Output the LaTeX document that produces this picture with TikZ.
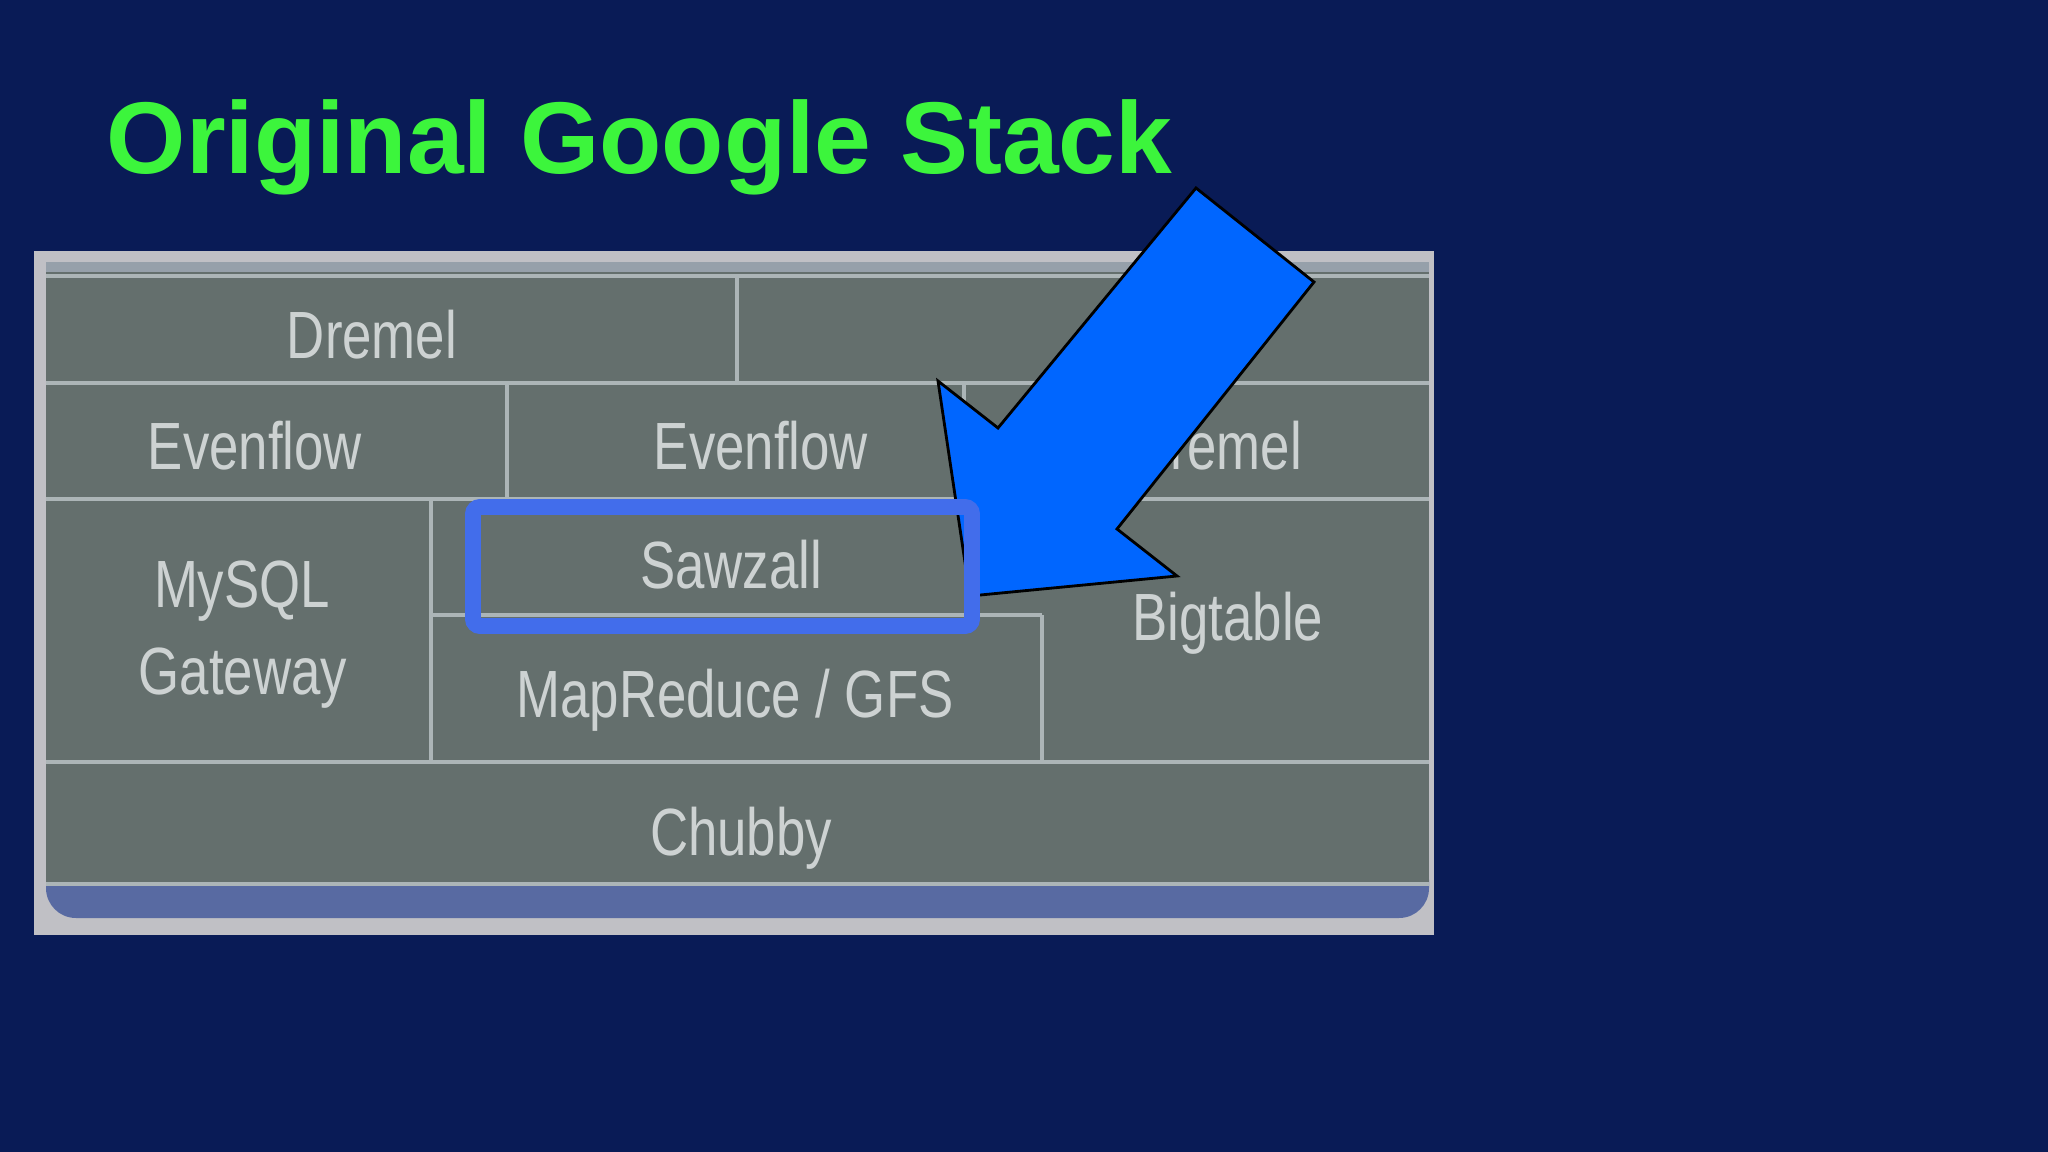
\documentclass[tikz,border=0pt]{standalone}
\usepackage{fontspec}
\usepackage{tikz}
\newfontfamily\titlefont{Liberation Sans}
\newfontfamily\cellfont[FakeStretch=0.79]{Liberation Sans}
\definecolor{slidebg}{RGB}{9,27,86}
\definecolor{titlegreen}{RGB}{60,245,60}
\definecolor{framegray}{RGB}{192,192,197}
\definecolor{stripgray}{RGB}{150,160,170}
\definecolor{cellgray}{RGB}{100,111,109}
\definecolor{gridgray}{RGB}{172,181,183}
\definecolor{celltext}{RGB}{205,210,210}
\definecolor{bandblue}{RGB}{88,106,162}
\definecolor{markblue}{RGB}{66,109,235}
\definecolor{arrowblue}{RGB}{0,102,255}
\tikzset{
  cell/.style={text=celltext, inner sep=0pt, anchor=base, font=\cellfont\fontsize{19}{23}\selectfont},
  grid/.style={draw=gridgray, line width=1.4pt},
}

\begin{document}
\begin{tikzpicture}[x=0.01cm,y=-0.01cm]
    \useasboundingbox (0,0) rectangle (2048,1152);
    \fill[slidebg] (0,0) rectangle (2048,1152);
    \fill[framegray] (34,251) rectangle (1434,935);
    \fill[stripgray] (46,262) rectangle (1429,272);
    \fill[bandblue,rounded corners=8.5pt] (46,850) rectangle (1429,918);
    \fill[cellgray] (46,272) rectangle (1429,886);
    \draw[grid] (46,276) -- (1429,276);
    \draw[grid] (46,383) -- (1429,383);
    \draw[grid] (46,499) -- (1429,499);
    \draw[grid] (431,615) -- (1042,615);
    \draw[grid] (46,762) -- (1429,762);
    \draw[grid] (46,884) -- (1429,884);
    \draw[grid,line width=1.1pt] (737,276) -- (737,383);
    \draw[grid,line width=1.1pt] (507,383) -- (507,499);
    \draw[grid,line width=1.1pt] (964,383) -- (964,499);
    \draw[grid,line width=1.1pt] (431,499) -- (431,762);
    \draw[grid,line width=1.1pt] (1042,615) -- (1042,762);
    \node[cell] (dremelA) at (372,359) {Dremel};
    \node[cell] (evenflowA) at (255,470) {Evenflow};
    \node[cell] (evenflowB) at (761,470) {Evenflow};
    \node[cell] (dremelB) at (1217,470) {Dremel};
    \node[cell] (mysql) at (242,607) {MySQL};
    \node[cell] (gateway) at (243,694) {Gateway};
    \node[cell] (sawzall) at (731,588) {Sawzall};
    \node[cell] (mapreduce) at (735,717) {MapReduce / GFS};
    \node[cell] (bigtable) at (1228,640) {Bigtable};
    \node[cell] (chubby) at (741,855) {Chubby};
    \coordinate (tailL) at (1196,188);
    \coordinate (tailR) at (1314,282);
    \coordinate (neckR) at (1117,529);
    \coordinate (barbR) at (1177,576);
    \coordinate (tip) at (970,596);
    \coordinate (barbL) at (938,381);
    \coordinate (neckL) at (998,428);
    \draw[fill=arrowblue, draw=black, line width=0.8pt, line join=miter]
      (tailL) -- (tailR) -- (neckR) -- (barbR) -- (tip) -- (barbL) -- (neckL) -- cycle;
    \draw[markblue, line width=4.5pt, rounded corners=2pt] (473,507) rectangle (972,626);
    \node[text=titlegreen, inner sep=0pt, anchor=base west,
          font=\titlefont\bfseries\fontsize{29}{34}\selectfont] (title) at (106,174) {Original Google Stack};
\end{tikzpicture}
\end{document}
